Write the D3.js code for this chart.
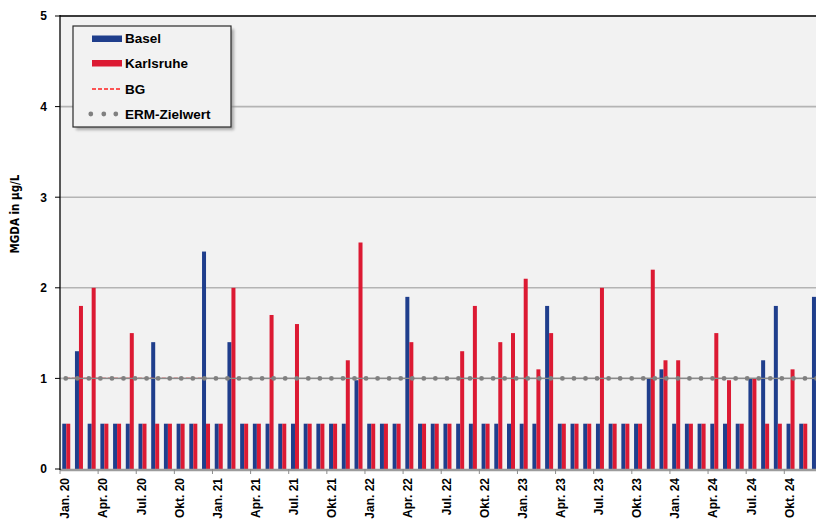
<!DOCTYPE html>
<html>
<head>
<meta charset="utf-8">
<script src="https://cdn.jsdelivr.net/npm/d3@7"></script>
<style>
  html, body { margin: 0; padding: 0; background: #fff; }
  svg { display: block; }
  text { font-family: "Liberation Sans", Arial, sans-serif; font-weight: bold; fill: #000; }
</style>
</head>
<body>
<svg id="chart" width="816" height="523"></svg>
<script>
// ---------- data ----------
const monthNames = ["Jan.", "Feb.", "Mär.", "Apr.", "Mai", "Jun.", "Jul.", "Aug.", "Sep.", "Okt.", "Nov.", "Dez."];
const years = ["20", "21", "22", "23", "24"];
const months = [];
years.forEach(yy => monthNames.forEach(m => months.push(m + " " + yy)));

const seriesNames = ["Basel", "Karlsruhe"];
const basel = [
  0.5, 1.3, 0.5, 0.5, 0.5, 0.5, 0.5, 1.4, 0.5, 0.5, 0.5, 2.4,
  0.5, 1.4, 0.5, 0.5, 0.5, 0.5, 0.5, 0.5, 0.5, 0.5, 0.5, 0.98,
  0.5, 0.5, 0.5, 1.9, 0.5, 0.5, 0.5, 0.5, 0.5, 0.5, 0.5, 0.5,
  0.5, 0.5, 1.8, 0.5, 0.5, 0.5, 0.5, 0.5, 0.5, 0.5, 1.0, 1.1,
  0.5, 0.5, 0.5, 0.5, 0.5, 0.5, 1.0, 1.2, 1.8, 0.5, 0.5, 1.9
];
const karlsruhe = [
  0.5, 1.8, 2.0, 0.5, 0.5, 1.5, 0.5, 0.5, 0.5, 0.5, 0.5, 0.5,
  0.5, 2.0, 0.5, 0.5, 1.7, 0.5, 1.6, 0.5, 0.5, 0.5, 1.2, 2.5,
  0.5, 0.5, 0.5, 1.4, 0.5, 0.5, 0.5, 1.3, 1.8, 0.5, 1.4, 1.5,
  2.1, 1.1, 1.5, 0.5, 0.5, 0.5, 2.0, 0.5, 0.5, 0.5, 2.2, 1.2,
  1.2, 0.5, 0.5, 1.5, 0.98, 0.5, 1.0, 0.5, 0.5, 1.1, 0.5, 0.5
];
// BG (Bestimmungsgrenze) shown for 2020
const bgMonths = ["Jan. 20", "Feb. 20", "Mär. 20", "Apr. 20", "Mai 20", "Jun. 20", "Jul. 20", "Aug. 20", "Sep. 20", "Okt. 20", "Nov. 20", "Dez. 20"];
const bgValues = [1, 1, 1, 1, 1, 1, 1, 1, 1, 1, 1, 1];
const ermZielwert = 1;
const yTicks = [0, 1, 2, 3, 4, 5];
const yTitle = "MGDA in µg/L";

(function () {
// ---------- layout ----------
const colors = { Basel: "#1f3e8c", Karlsruhe: "#dc1a33" };
const pLeft = 60, pTop = 16, pBottom = 469;
const monthStep = 12.707;
const pRight = pLeft + months.length * monthStep;

const svg = d3.select("#chart");
const x = d3.scaleBand().domain(months).range([pLeft, pRight]).padding(0);
const bw = x.bandwidth();
const xs = d3.scaleBand().domain(seriesNames).range([bw / 2 - 4.1, bw / 2 + 3.9]).padding(0);
const y = d3.scaleLinear().domain([0, 5]).range([pBottom, pTop]);

// plot background
svg.append("rect").attr("x", pLeft).attr("y", pTop).attr("width", pRight - pLeft).attr("height", pBottom - pTop).attr("fill", "#f2f2f2");

// gridlines
svg.append("g").selectAll("line").data(yTicks.filter(d => d > 0 && d < 5)).join("line")
  .attr("x1", pLeft).attr("x2", pRight)
  .attr("y1", d => y(d)).attr("y2", d => y(d))
  .attr("stroke", "#b4b4b4").attr("stroke-width", 1.6);

// top border
svg.append("line").attr("x1", pLeft).attr("x2", pRight).attr("y1", y(5)).attr("y2", y(5))
  .attr("stroke", "#3a3a3a").attr("stroke-width", 2);

// bars
const rows = months.map((m, i) => ({ m, Basel: basel[i], Karlsruhe: karlsruhe[i] }));
const gBars = svg.append("g");
seriesNames.forEach(s => {
  gBars.append("g").selectAll("rect").data(rows).join("rect")
    .attr("x", d => x(d.m) + xs(s))
    .attr("y", d => y(d[s]))
    .attr("width", xs.bandwidth())
    .attr("height", d => y(0) - y(d[s]))
    .attr("fill", colors[s]);
});

// BG line
const bgData = bgMonths.map((m, i) => ({ m, v: bgValues[i] }));
svg.append("path").datum(bgData)
  .attr("d", d3.line().x(d => x(d.m) + bw / 2 - 0.5).y(d => y(d.v)))
  .attr("fill", "none").attr("stroke", "#ff2020").attr("stroke-width", 1.4).attr("stroke-dasharray", "4 2");

// ERM-Zielwert line (thin line + dots)
const ermData = [{ m: months[0], v: ermZielwert }, { m: months[months.length - 1], v: ermZielwert }];
const ermLine = d3.line().x((d, i) => i === 0 ? x(d.m) + bw / 2 - 0.6 : x(d.m) + bw).y(d => y(d.v));
svg.append("path").datum(ermData).attr("d", ermLine)
  .attr("fill", "none").attr("stroke", "#8a8a8a").attr("stroke-width", 1.3);
svg.append("path").datum(ermData).attr("d", ermLine)
  .attr("fill", "none").attr("stroke", "#808080").attr("stroke-width", 4.8)
  .attr("stroke-linecap", "round").attr("stroke-dasharray", "0 11.55");

// x axis baseline
svg.append("line").attr("x1", pLeft).attr("x2", pRight).attr("y1", pBottom + 1).attr("y2", pBottom + 1)
  .attr("stroke", "#9c9c9c").attr("stroke-width", 2.5);
// x ticks at quarter boundaries
const tickMonths = months.filter((m, i) => i % 3 === 0);
svg.append("g").selectAll("line").data(tickMonths).join("line")
  .attr("x1", d => x(d)).attr("x2", d => x(d))
  .attr("y1", pBottom).attr("y2", pBottom + 5)
  .attr("stroke", "#8c8c8c").attr("stroke-width", 1);
// x labels
svg.append("g").selectAll("text").data(tickMonths).join("text")
  .attr("transform", d => `translate(${x(d) + bw / 2 - 1.2},478) rotate(-90)`)
  .attr("text-anchor", "end").attr("dy", "0.35em")
  .style("font-size", "12px")
  .text(d => d);

// y axis
svg.append("line").attr("x1", pLeft).attr("x2", pLeft).attr("y1", pTop - 1).attr("y2", pBottom + 1)
  .attr("stroke", "#000").attr("stroke-width", 1.3);
svg.append("g").selectAll("line").data(yTicks).join("line")
  .attr("x1", 55).attr("x2", pLeft).attr("y1", d => y(d)).attr("y2", d => y(d))
  .attr("stroke", "#000").attr("stroke-width", 1);
svg.append("g").selectAll("text").data(yTicks).join("text")
  .attr("x", 47).attr("y", d => y(d)).attr("dy", "0.36em")
  .attr("text-anchor", "end").style("font-size", "12px")
  .text(d => d);

// y title
svg.append("text")
  .attr("transform", `translate(19,${(183 + 245) / 2}) rotate(-90)`)
  .attr("text-anchor", "middle")
  .style("font-family", "'Liberation Sans Narrow', 'DejaVu Sans Condensed', 'Liberation Sans', sans-serif")
  .style("font-size", "11.5px")
  .text(yTitle);

// ---------- legend ----------
const defs = svg.append("defs");
const f = defs.append("filter").attr("id", "shadow").attr("x", "-20%").attr("y", "-20%").attr("width", "140%").attr("height", "140%");
f.append("feGaussianBlur").attr("stdDeviation", 1.6);

const lg = svg.append("g");
const lx = 73, ly = 26, lw = 158, lh = 101;
lg.append("rect").attr("x", lx + 3).attr("y", ly + 3).attr("width", lw).attr("height", lh)
  .attr("fill", "#8a8a8a").attr("opacity", 0.7).attr("filter", "url(#shadow)");
lg.append("rect").attr("x", lx).attr("y", ly).attr("width", lw).attr("height", lh)
  .attr("fill", "#f2f2f2").attr("stroke", "#2a2a2a").attr("stroke-width", 1.2);

const legendItems = [
  { name: "Basel", type: "bar", color: colors.Basel, yy: 38.5 },
  { name: "Karlsruhe", type: "bar", color: colors.Karlsruhe, yy: 63 },
  { name: "BG", type: "dash", color: "#ff2020", yy: 89 },
  { name: "ERM-Zielwert", type: "dots", color: "#808080", yy: 114 }
];
legendItems.forEach(it => {
  if (it.type === "bar") {
    lg.append("rect").attr("x", 92).attr("y", it.yy - 3).attr("width", 30).attr("height", 6.5).attr("fill", it.color);
  } else if (it.type === "dash") {
    lg.append("line").attr("x1", 92).attr("x2", 122).attr("y1", it.yy).attr("y2", it.yy)
      .attr("stroke", it.color).attr("stroke-width", 1.4).attr("stroke-dasharray", "4 2");
  } else {
    [90.8, 103.8, 115.8].forEach(cx => lg.append("circle").attr("cx", cx).attr("cy", it.yy).attr("r", 2.4).attr("fill", it.color));
  }
  lg.append("text").attr("x", 125).attr("y", it.yy).attr("dy", "0.36em")
    .style("font-size", "13.5px").text(it.name);
});
})();
</script>
</body>
</html>
